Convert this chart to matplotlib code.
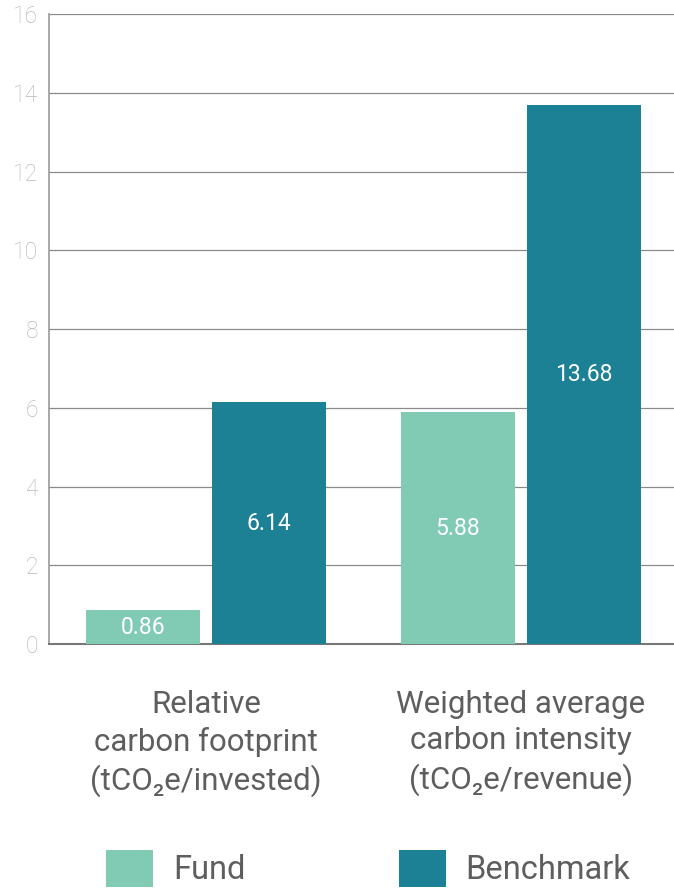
import numpy as np
import matplotlib.pyplot as plt

# Data
categories = ['Relative\ncarbon footprint\n(tCO\u2082e/invested)',
              'Weighted average\ncarbon intensity\n(tCO\u2082e/revenue)']
fund = [0.86, 5.88]
benchmark = [6.14, 13.68]
series_names = ['Fund', 'Benchmark']
yticks = [0, 2, 4, 6, 8, 10, 12, 14, 16]

fund_color = '#81cbb4'
bench_color = '#1c8194'
text_color = '#5e5e5e'
tick_color = '#b8b8b8'
grid_color = '#8a8a8a'

plt.rcParams['font.family'] = ['Roboto', 'DejaVu Sans']

fig = plt.figure(figsize=(6.74, 8.89), dpi=100)
ax = fig.add_axes([49 / 674, 1 - 644 / 889, 625 / 674, 630 / 889])

x = np.arange(len(categories))
width = 0.362
offset = 0.2

b1 = ax.bar(x - offset, fund, width, color=fund_color, label=series_names[0], zorder=3)
b2 = ax.bar(x + offset, benchmark, width, color=bench_color, label=series_names[1], zorder=3)

for bars, vals in ((b1, fund), (b2, benchmark)):
    for rect, v in zip(bars, vals):
        ax.text(rect.get_x() + rect.get_width() / 2, v / 2, f'{v:.2f}',
                ha='center', va='center', color='white', fontsize=16.5, zorder=4)

ax.set_xlim(-0.498, 1.486)
ax.set_ylim(0, 16)
ax.set_yticks(yticks)
ax.set_yticklabels([str(t) for t in yticks], color=tick_color, fontsize=16.5,
                   fontweight='light')
ax.tick_params(axis='y', length=0, pad=8)
ax.set_xticks(x)
ax.set_xticklabels(categories, color=text_color, fontsize=22.5, linespacing=1.32,
                   va='top')
ax.tick_params(axis='x', length=0, pad=33)

ax.grid(axis='y', color=grid_color, linewidth=0.9, zorder=0)
for s in ['top', 'right']:
    ax.spines[s].set_visible(False)
ax.spines['left'].set_color('#999999')
ax.spines['left'].set_linewidth(1.2)
ax.spines['bottom'].set_color('#777777')
ax.spines['bottom'].set_linewidth(1.5)

fig.legend(handles=[b1, b2], labels=series_names, loc='lower left',
           bbox_to_anchor=(93 / 674, -0.012), ncol=2, frameon=False,
           fontsize=23.5, labelcolor=text_color, handlelength=1.45,
           handleheight=1.35, handletextpad=0.6, columnspacing=4.7,
           borderaxespad=0)

fig.savefig('out.png', dpi=100)
